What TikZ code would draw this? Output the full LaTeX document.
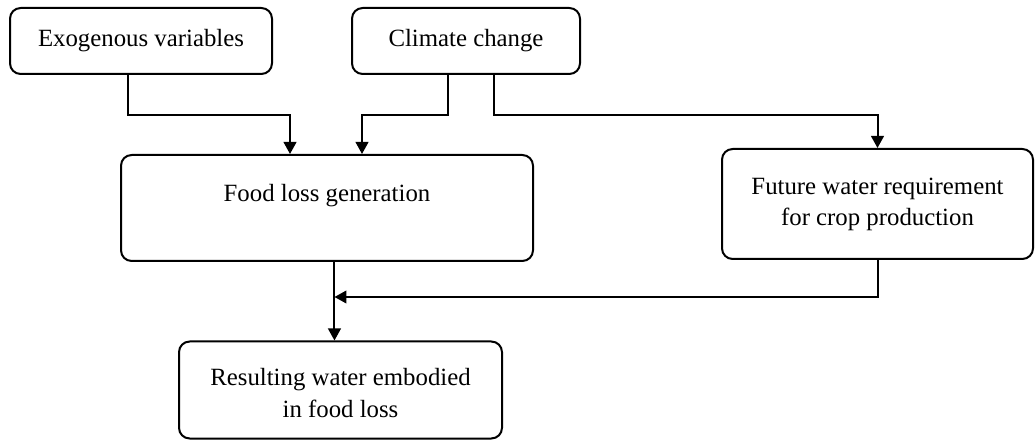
\documentclass[tikz,border=0pt]{standalone}
\usepackage{fontspec}
\setmainfont{Liberation Serif}
\usetikzlibrary{arrows.meta}
\begin{document}
\begin{tikzpicture}[x=0.75pt,y=-0.75pt,
  box/.style={draw,line width=1.5pt,rounded corners=8pt,align=center,inner sep=0pt,
    font=\fontsize{18.6}{23.3}\selectfont},
  arr/.style={line width=1.5pt,-{Triangle[length=9pt,width=9.5pt]}}]
\useasboundingbox (0,0) rectangle (1035,441);
\node[box,minimum width=196.5pt,minimum height=49.5pt] (exo) at (141,41) {Exogenous variables};
\node[box,minimum width=171pt,minimum height=49.5pt] (clim) at (466,41) {Climate change};
\node[box,minimum width=309pt,minimum height=79.5pt] (food) at (327,208)
  {\raisebox{9pt}[\height][\depth]{Food loss generation}};
\node[box,minimum width=233.25pt,minimum height=82.5pt] (fut) at (877.5,204)
  {Future water requirement\\for crop production};
\node[box,minimum width=242.25pt,minimum height=72.75pt] (res) at (340.5,390)
  {\raisebox{-2.25pt}[\height][\depth]{Resulting water embodied}\\
   \raisebox{-2.25pt}[\height][\depth]{in food loss}};
\coordinate (bus) at (0,115);
\coordinate (mid) at (0,297);
\coordinate (exoout) at ([xshift=-9.75pt]exo.south);
\coordinate (clout1) at ([xshift=-13.5pt]clim.south);
\coordinate (clout2) at ([xshift=21pt]clim.south);
\coordinate (fin1) at ([xshift=-27.75pt]food.north);
\coordinate (fin2) at ([xshift=26.25pt]food.north);
\coordinate (fout) at ([xshift=5.6pt]food.south);
\draw[arr] (exoout) -- (exoout |- bus) -| (fin1);
\draw[arr] (clout1) -- (clout1 |- bus) -| (fin2);
\draw[arr] (clout2) -- (clout2 |- bus) -| (fut.north);
\draw[arr] (fut.south) |- (fout |- mid);
\draw[arr] (fout) -- (fout |- res.north);
\end{tikzpicture}
\end{document}
